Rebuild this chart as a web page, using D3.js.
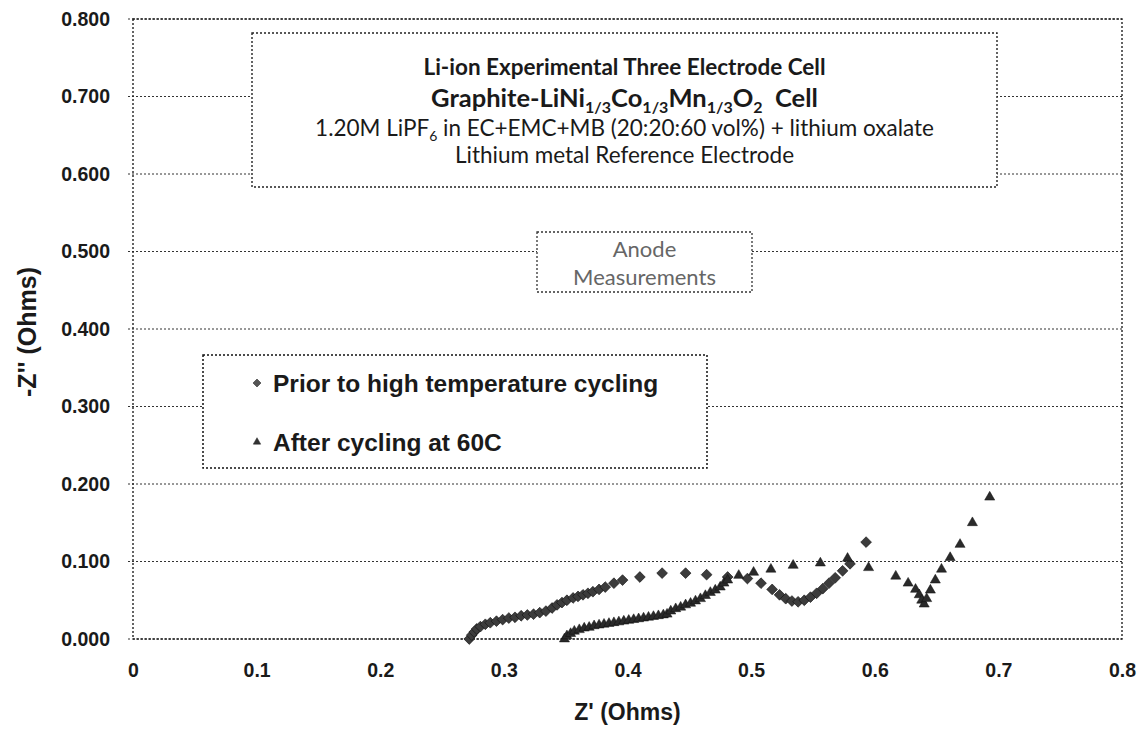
<!DOCTYPE html>
<html><head><meta charset="utf-8">
<script src="https://cdn.jsdelivr.net/npm/d3@7"></script>
<style>body{margin:0;background:#fff}svg{display:block}</style>
</head><body>
<svg id="chart" width="1147" height="744"></svg>
<script>
// ---- data ----
const priorZre = [0.272,0.274,0.276,0.278,0.281,0.285,0.289,0.294,0.299,0.304,0.309,0.314,0.319,0.324,0.329,0.334,0.339,0.343,0.347,0.351,0.356,0.360,0.364,0.368,0.372,0.377,0.382,0.389,0.396,0.410,0.428,0.447,0.464,0.481,0.497,0.508,0.517,0.523,0.528,0.533,0.538,0.543,0.548,0.553,0.558,0.563,0.568,0.574,0.580,0.593];
const priorZim = [0.000,0.005,0.009,0.013,0.016,0.019,0.021,0.023,0.025,0.027,0.028,0.030,0.031,0.032,0.034,0.036,0.040,0.044,0.047,0.050,0.053,0.055,0.057,0.059,0.061,0.064,0.067,0.072,0.076,0.080,0.085,0.085,0.083,0.080,0.078,0.072,0.064,0.057,0.052,0.049,0.048,0.050,0.054,0.059,0.065,0.072,0.079,0.088,0.097,0.125];
const afterZre = [0.349,0.351,0.354,0.357,0.361,0.365,0.369,0.373,0.377,0.381,0.385,0.389,0.393,0.397,0.401,0.405,0.409,0.413,0.417,0.421,0.425,0.429,0.432,0.435,0.439,0.443,0.447,0.451,0.455,0.459,0.463,0.467,0.471,0.475,0.478,0.481,0.490,0.502,0.516,0.534,0.556,0.578,0.595,0.617,0.627,0.633,0.636,0.638,0.640,0.642,0.645,0.649,0.654,0.661,0.669,0.679,0.693];
const afterZim = [0.000,0.004,0.007,0.010,0.012,0.014,0.015,0.017,0.018,0.019,0.020,0.021,0.022,0.023,0.024,0.025,0.026,0.027,0.028,0.029,0.030,0.031,0.032,0.036,0.039,0.041,0.044,0.046,0.049,0.052,0.056,0.060,0.063,0.067,0.072,0.076,0.082,0.086,0.090,0.095,0.098,0.104,0.092,0.081,0.072,0.064,0.057,0.050,0.045,0.052,0.063,0.076,0.090,0.105,0.122,0.150,0.183];
const xTicks = [0,0.1,0.2,0.3,0.4,0.5,0.6,0.7,0.8];
const yTicks = [0,0.1,0.2,0.3,0.4,0.5,0.6,0.7,0.8];
const seriesNames = ["Prior to high temperature cycling","After cycling at 60C"];
const titleLines = ["Li-ion Experimental Three Electrode Cell","1.20M LiPF6 in EC+EMC+MB (20:20:60 vol%) + lithium oxalate","Lithium metal Reference Electrode"];

// ---- layout ----
const svg = d3.select("#chart");
const X0 = 133, X1 = 1122, Y0 = 639, Y1 = 19;
const x = d3.scaleLinear().domain([0,0.8]).range([X0,X1]);
const y = d3.scaleLinear().domain([0,0.8]).range([Y0,Y1]);
const ink = "#1a1a1a";
const dot = "2,2";
const af = "Liberation Sans, Arial, sans-serif";

// gridlines
svg.append("g").selectAll("line").data(yTicks).join("line")
  .attr("x1", X0-5).attr("x2", X1).attr("y1", d=>y(d)).attr("y2", d=>y(d))
  .attr("stroke", "#333").attr("stroke-width",1).attr("stroke-dasharray", dot);
// border
svg.append("rect").attr("x",X0).attr("y",Y1).attr("width",X1-X0).attr("height",Y0-Y1)
  .attr("fill","none").attr("stroke","#222").attr("stroke-width",1.4).attr("stroke-dasharray",dot);

// y axis
const yAxis = d3.axisLeft(y).tickValues(yTicks).tickFormat(d3.format(".3f")).tickSize(0).tickPadding(23);
const gy = svg.append("g").attr("transform",`translate(${X0},0)`).call(yAxis);
gy.select(".domain").remove();
gy.selectAll("text").attr("font-family",af).attr("font-weight","bold").attr("font-size",19.5).attr("fill",ink);

// x axis
const xAxis = d3.axisBottom(x).tickValues(xTicks).tickFormat(d=>d===0?"0":d3.format(".1f")(d)).tickSize(0).tickPadding(24);
const gx = svg.append("g").attr("transform",`translate(0,${Y0})`).call(xAxis);
gx.select(".domain").remove();
gx.selectAll("text").attr("font-family",af).attr("font-weight","bold").attr("font-size",19.5).attr("fill",ink);

// axis titles
svg.append("text").attr("x",(X0+X1)/2).attr("y",720).attr("text-anchor","middle")
  .attr("font-family",af).attr("font-weight","bold").attr("font-size",23).attr("fill",ink)
  .text("Z' (Ohms)");
svg.append("text").attr("transform","translate(36,332) rotate(-90)").attr("text-anchor","middle")
  .attr("font-family",af).attr("font-weight","bold").attr("font-size",25).attr("fill",ink)
  .text("-Z'' (Ohms)");

// data marks
const diamond = d3.symbol().type(d3.symbolSquare).size(58);
const tri = d3.symbol().type(d3.symbolTriangle).size(44);
const prior = priorZre.map((v,i)=>({zr:v, zi:priorZim[i]}));
const after = afterZre.map((v,i)=>({zr:v, zi:afterZim[i]}));
svg.append("g").selectAll("path").data(prior).join("path")
  .attr("d", diamond).attr("transform", d=>`translate(${x(d.zr)},${y(d.zi)}) rotate(45)`)
  .attr("fill","#3c3c3c").attr("stroke","#111").attr("stroke-width",0.6);
svg.append("g").selectAll("path").data(after).join("path")
  .attr("d", tri).attr("transform", d=>`translate(${x(d.zr)},${y(d.zi)})`)
  .attr("fill","#2a2a2a").attr("stroke","#111").attr("stroke-width",0.5);

// title box
const tb = svg.append("g");
tb.append("rect").attr("x",252).attr("y",33).attr("width",745).attr("height",154)
  .attr("fill","#fff").attr("stroke","#222").attr("stroke-width",1.4).attr("stroke-dasharray",dot);
const tcx = 624.5, tf = "Lato, 'Open Sans', sans-serif";
tb.append("text").attr("x",tcx).attr("y",75).attr("text-anchor","middle").attr("font-family",tf).attr("font-size",22.5).attr("font-weight","bold").attr("fill",ink).text(titleLines[0]);
const t2 = tb.append("text").attr("x",tcx).attr("y",107).attr("text-anchor","middle").attr("font-family",tf).attr("font-size",25.5).attr("font-weight","bold").attr("fill",ink);
[["Graphite-LiNi",0,25.5],["1/3",6,16],["Co",-6,25.5],["1/3",6,16],["Mn",-6,25.5],["1/3",6,16],["O",-6,25.5],["2",6,16],["  Cell",-6,25.5]]
  .forEach(([s,dy,fs])=>t2.append("tspan").attr("dy",dy).attr("font-size",fs).style("white-space","pre").text(s));
const t3 = tb.append("text").attr("x",tcx).attr("y",136).attr("text-anchor","middle").attr("font-family",tf).attr("font-size",22.5).attr("fill",ink);
t3.append("tspan").text("1.20M LiPF");
t3.append("tspan").attr("dy",5).attr("font-size",14).text("6");
t3.append("tspan").attr("dy",-5).text(" in EC+EMC+MB (20:20:60 vol%) + lithium oxalate");
tb.append("text").attr("x",tcx).attr("y",163).attr("text-anchor","middle").attr("font-family",tf).attr("font-size",22.5).attr("fill",ink).text(titleLines[2]);

// anode box
const ab = svg.append("g");
ab.append("rect").attr("x",537).attr("y",232).attr("width",215).attr("height",60)
  .attr("fill","#fff").attr("stroke","#333").attr("stroke-width",1.3).attr("stroke-dasharray",dot);
ab.append("text").attr("x",644.5).attr("y",257).attr("text-anchor","middle").attr("font-family",tf).attr("font-size",22).attr("fill","#666").text("Anode");
ab.append("text").attr("x",644.5).attr("y",285).attr("text-anchor","middle").attr("font-family",tf).attr("font-size",22).attr("fill","#666").text("Measurements");

// legend
const lg = svg.append("g");
lg.append("rect").attr("x",203).attr("y",355).attr("width",504).attr("height",113)
  .attr("fill","#fff").attr("stroke","#111").attr("stroke-width",1.5).attr("stroke-dasharray",dot);
const legItems = [{name:seriesNames[0], sym:d3.symbol().type(d3.symbolSquare).size(32), rot:45, fill:"#555", cy:383},
                  {name:seriesNames[1], sym:d3.symbol().type(d3.symbolTriangle).size(24), rot:0, fill:"#333", cy:442}];
lg.selectAll("path").data(legItems).join("path").attr("d", d=>d.sym())
  .attr("transform", d=>`translate(257,${d.cy}) rotate(${d.rot})`).attr("fill", d=>d.fill).attr("stroke","#222").attr("stroke-width",0.5);
lg.selectAll("text").data(legItems).join("text").attr("x",273).attr("y",d=>d.cy+9)
  .attr("font-family",af).attr("font-weight","bold").attr("font-size",24.5).attr("fill",ink)
  .text(d=>d.name);
</script>
</body></html>
